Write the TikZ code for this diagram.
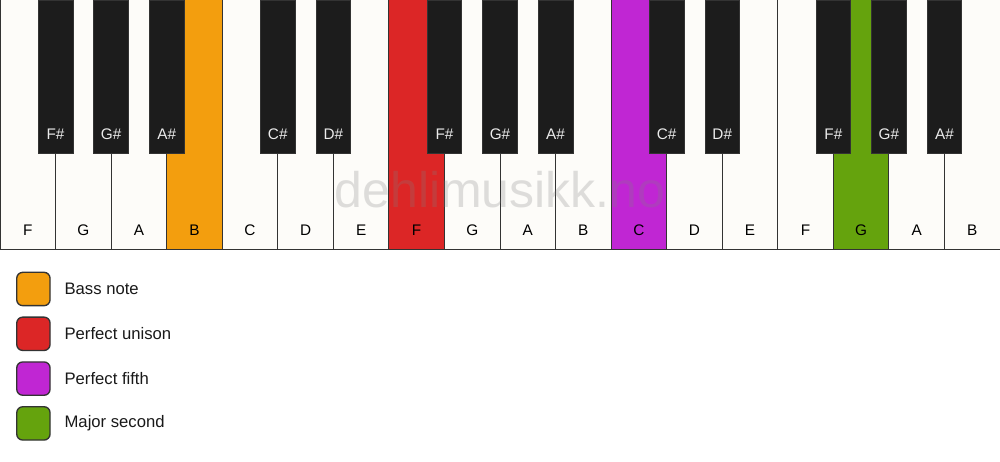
\documentclass[tikz,border=0pt]{standalone}
\usepackage{fontspec}
\setmainfont{Liberation Sans}
\usetikzlibrary{positioning, calc}
\definecolor{keywhite}{HTML}{FDFCF9}
\definecolor{keyblack}{HTML}{1C1C1C}
\definecolor{keyline}{HTML}{333333}
\definecolor{bassnote}{HTML}{F39E0E}
\definecolor{unison}{HTML}{DC2626}
\definecolor{fifth}{HTML}{C026D3}
\definecolor{second}{HTML}{65A30D}
\tikzset{
    whitekey/.style={
        rectangle,
        draw=keyline,
        line width=0.75pt,
        minimum width=41.667pt,
        minimum height=187.5pt,
        inner sep=0pt
    },
    blackkey/.style={
        rectangle,
        draw=keyline,
        line width=0.5pt,
        fill=keyblack,
        minimum width=26pt,
        minimum height=115pt,
        inner sep=0pt
    },
    keylabel/.style={
        font=\fontsize{11.5}{13}\selectfont,
        text=black,
        inner sep=0pt
    },
    sharplabel/.style={
        keylabel,
        text=white!92!black
    },
    legendbox/.style={
        rectangle,
        rounded corners=4.5pt,
        draw=keyline,
        line width=1pt,
        minimum size=25pt,
        inner sep=0pt
    },
    legendtext/.style={
        font=\fontsize{12.5}{15}\selectfont,
        text=black!90,
        inner sep=0pt,
        anchor=west
    },
    watermark/.style={
        font=\fontsize{37.5}{40}\selectfont,
        text=gray,
        text opacity=0.25,
        inner sep=0pt
    }
}
\begin{document}
\begin{tikzpicture}[x=0.75pt, y=0.75pt]
\useasboundingbox[fill=white] (0,0) rectangle (1000,461);

% White keys
\foreach \name/\col [count=\i from 0] in {F/keywhite, G/keywhite, A/keywhite, B/bassnote, C/keywhite, D/keywhite, E/keywhite,
    F/unison, G/keywhite, A/keywhite, B/keywhite, C/fifth, D/keywhite, E/keywhite, F/keywhite, G/second, A/keywhite, B/keywhite} {
    \node[whitekey, fill=\col] (w\i) at ({(\i+0.5)*55.556},336) {};
    \node[keylabel] (wl\i) at ($(w\i.south)+(0,20)$) {\name};
}

% Black keys
\foreach \b/\name in {1/F\#, 2/G\#, 3/A\#, 5/C\#, 6/D\#, 8/F\#, 9/G\#, 10/A\#, 12/C\#, 13/D\#, 15/F\#, 16/G\#, 17/A\#} {
    \node[blackkey, anchor=north] (b\b) at ({\b*55.556},461) {};
    \node[sharplabel] (bl\b) at ($(b\b.south)+(0,20)$) {\name};
}

% Watermark
\node[watermark, anchor=base] (mark) at (500,253) {dehlimusikk.no};

% Legend
\node[legendbox, fill=bassnote] (bass_box) at (33.4,172) {};
\node[legendbox, fill=unison, below=7.6pt of bass_box] (unison_box) {};
\node[legendbox, fill=fifth, below=7.6pt of unison_box] (fifth_box) {};
\node[legendbox, fill=second, below=7.6pt of fifth_box] (second_box) {};
\node[legendtext, right=10.2pt of bass_box] {Bass note};
\node[legendtext, right=10.2pt of unison_box] {Perfect unison};
\node[legendtext, right=10.2pt of fifth_box] {Perfect fifth};
\node[legendtext, right=10.2pt of second_box] {Major second};

\end{tikzpicture}
\end{document}
